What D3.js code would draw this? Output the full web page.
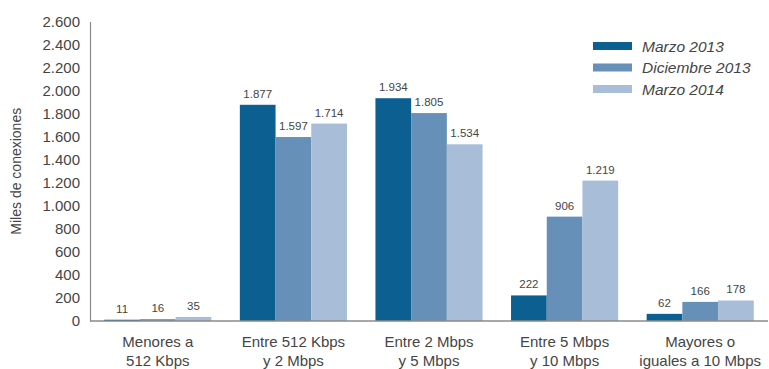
<!DOCTYPE html>
<html>
<head>
<meta charset="utf-8">
<script src="https://cdn.jsdelivr.net/npm/d3@7"></script>
<style>
  html, body { margin: 0; padding: 0; background: #fff; }
  svg { display: block; font-family: "Liberation Sans", Arial, sans-serif; }
</style>
</head>
<body>
<svg id="chart" width="769" height="369"></svg>
<script>
// Categories (two-line labels) and series
const categories = [
  ["Menores a", "512 Kbps"],
  ["Entre 512 Kbps", "y 2 Mbps"],
  ["Entre 2 Mbps", "y 5 Mbps"],
  ["Entre 5 Mbps", "y 10 Mbps"],
  ["Mayores o", "iguales a 10 Mbps"]
];
const seriesNames = ["Marzo 2013", "Diciembre 2013", "Marzo 2014"];
const marzo2013 = [11, 1877, 1934, 222, 62];
const diciembre2013 = [16, 1597, 1805, 906, 166];
const marzo2014 = [35, 1714, 1534, 1219, 178];
const yTicks = [0, 200, 400, 600, 800, 1000, 1200, 1400, 1600, 1800, 2000, 2200, 2400, 2600];
const colors = ["#0b5f91", "#6690b7", "#a8bdd7"];
const textColor = "#454545";

const seriesValues = [marzo2013, diciembre2013, marzo2014];

const locale = d3.formatLocale({ decimal: ",", thousands: ".", grouping: [3], currency: ["", "€"] });
const fmt = locale.format(",d");

const svg = d3.select("#chart");
const plotLeft = 90, plotRight = 768, plotTop = 21.5, plotBottom = 321;

const x0 = d3.scaleBand()
  .domain(d3.range(categories.length))
  .range([plotLeft, plotRight])
  .paddingInner(0.21)
  .paddingOuter(0.105);
const x1 = d3.scaleBand()
  .domain(d3.range(seriesNames.length))
  .range([0, x0.bandwidth()]);
const y = d3.scaleLinear().domain([0, 2600]).range([plotBottom, plotTop]);

// Y axis (labels only, plus a vertical rule)
const yAxis = svg.append("g")
  .attr("transform", `translate(${plotLeft},0)`)
  .call(d3.axisLeft(y).tickValues(yTicks).tickFormat(fmt).tickSize(0).tickPadding(10));
yAxis.select(".domain").attr("stroke", "#8a8a8a").attr("stroke-width", 1.2);
yAxis.selectAll("text")
  .attr("fill", textColor)
  .style("font-size", "15px")
  .style("font-family", "'Liberation Sans', Arial, sans-serif");

svg.append("text")
  .attr("transform", `translate(21,${(plotTop + plotBottom) / 2}) rotate(-90)`)
  .attr("text-anchor", "middle")
  .attr("fill", textColor)
  .style("font-size", "14px")
  .text("Miles de conexiones");

// Bars
const groups = svg.append("g").selectAll("g")
  .data(categories.map((c, i) => i))
  .join("g")
  .attr("transform", i => `translate(${x0(i)},0)`);

groups.selectAll("rect")
  .data(i => seriesValues.map((s, k) => ({ k, v: s[i] })))
  .join("rect")
  .attr("x", d => x1(d.k))
  .attr("width", x1.bandwidth())
  .attr("y", d => y(d.v))
  .attr("height", d => y(0) - y(d.v))
  .attr("fill", d => colors[d.k]);

groups.selectAll("text.val")
  .data(i => seriesValues.map((s, k) => ({ k, v: s[i] })))
  .join("text")
  .attr("class", "val")
  .attr("x", d => x1(d.k) + x1.bandwidth() / 2)
  .attr("y", d => y(d.v) - 7)
  .attr("text-anchor", "middle")
  .attr("fill", textColor)
  .style("font-size", "11.5px")
  .text(d => fmt(d.v));

// Baseline
svg.append("line")
  .attr("x1", plotLeft).attr("x2", plotRight)
  .attr("y1", y(0)).attr("y2", y(0))
  .attr("stroke", "#8a8a8a").attr("stroke-width", 1.5);

// Category labels
const catLabels = svg.append("g").selectAll("text")
  .data(categories)
  .join("text")
  .attr("text-anchor", "middle")
  .attr("fill", textColor)
  .style("font-size", "15px")
  .attr("x", (d, i) => x0(i) + x0.bandwidth() / 2);
catLabels.selectAll("tspan")
  .data(d => d)
  .join("tspan")
  .attr("x", function() { return d3.select(this.parentNode).attr("x"); })
  .attr("y", (d, j) => 346.5 + j * 19.5)
  .text(d => d);

// Legend
const legend = svg.append("g").selectAll("g")
  .data(seriesNames)
  .join("g")
  .attr("transform", (d, i) => `translate(593,${46 + i * 21.5})`);
legend.append("rect")
  .attr("x", 0).attr("y", -4).attr("width", 39).attr("height", 8)
  .attr("fill", (d, i) => colors[i]);
legend.append("text")
  .attr("x", 49).attr("y", 5.5)
  .attr("fill", textColor)
  .style("font-size", "15.5px")
  .style("font-style", "italic")
  .text(d => d);
</script>
</body>
</html>
